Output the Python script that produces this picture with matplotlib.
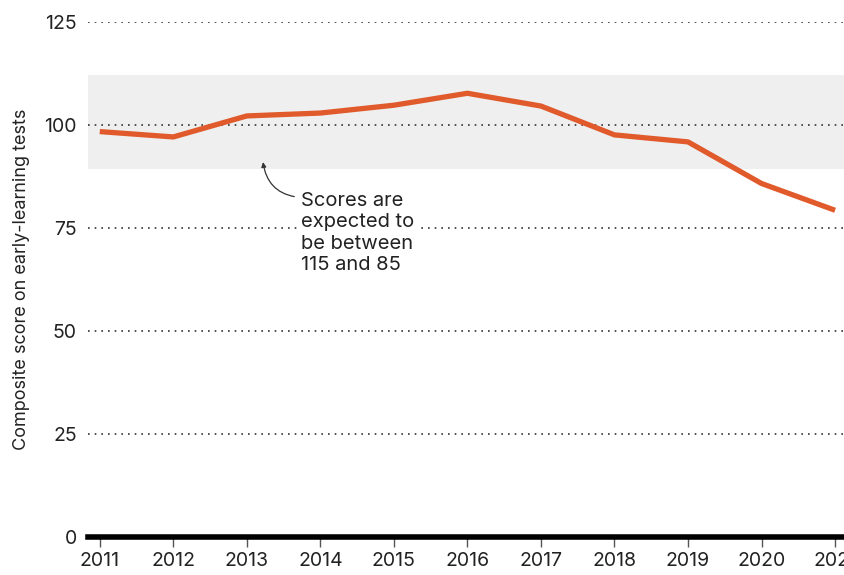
import matplotlib.pyplot as plt

# Datos
years = [2011, 2012, 2013, 2014, 2015, 2016, 2017, 2018, 2019, 2020, 2021]
scores = [98.4, 97.1, 102.2, 102.9, 104.8, 107.7, 104.6, 97.6, 95.9, 85.8, 79.3]
yticks = [0, 25, 50, 75, 100, 125]
band_low, band_high = 89.2, 112.2

plt.rcParams['font.family'] = ['Inter', 'DejaVu Sans']

fig = plt.figure(figsize=(8.45, 5.75), dpi=100)
ax = fig.add_axes([88 / 845, 1 - 537 / 575, 1 - 88 / 845 + 0.01, (537 - 22) / 575])

ax.set_xlim(2010.84, 2021.25)
ax.set_ylim(0, 125)

# Banda de puntajes esperados
ax.axhspan(band_low, band_high, color='#efefef', zorder=0, lw=0)

# Rejilla punteada
for y in yticks[1:]:
    ax.axhline(y, color='#333333', lw=1.2, ls=(0, (1, 3)), zorder=1)

# Linea base
ax.axhline(0, color='black', lw=4, zorder=3, clip_on=False)

ax.plot(years, scores, color='#e05a2b', lw=3.8, zorder=4, solid_capstyle='butt')

# Anotacion
ax.annotate('Scores are\nexpected to\nbe between\n115 and 85',
            xy=(2013.22, 91.0), xytext=(2013.74, 83.8),
            fontsize=14.5, color='#222222', va='top', ha='left', linespacing=1.25,
            bbox=dict(facecolor='white', edgecolor='none', pad=3),
            arrowprops=dict(arrowstyle='-|>', color='#333333', lw=0.9,
                            mutation_scale=7, shrinkA=2, shrinkB=0,
                            connectionstyle='arc3,rad=-0.4',
                            relpos=(0, 0.93)),
            zorder=5)

for s in ax.spines.values():
    s.set_visible(False)

ax.set_yticks(yticks)
ax.set_yticklabels([str(v) for v in yticks])
ax.set_xticks(years)
ax.set_xticklabels([str(v) for v in years])
ax.tick_params(axis='y', length=0, labelsize=14, pad=8, labelcolor='#222222')
ax.tick_params(axis='x', length=7, width=1, color='#555555', labelsize=14,
               pad=4, labelcolor='#222222')

ax.set_ylabel('Composite score on early-learning tests', fontsize=13,
              color='#222222', labelpad=10)

fig.savefig('out.png', dpi=100)
